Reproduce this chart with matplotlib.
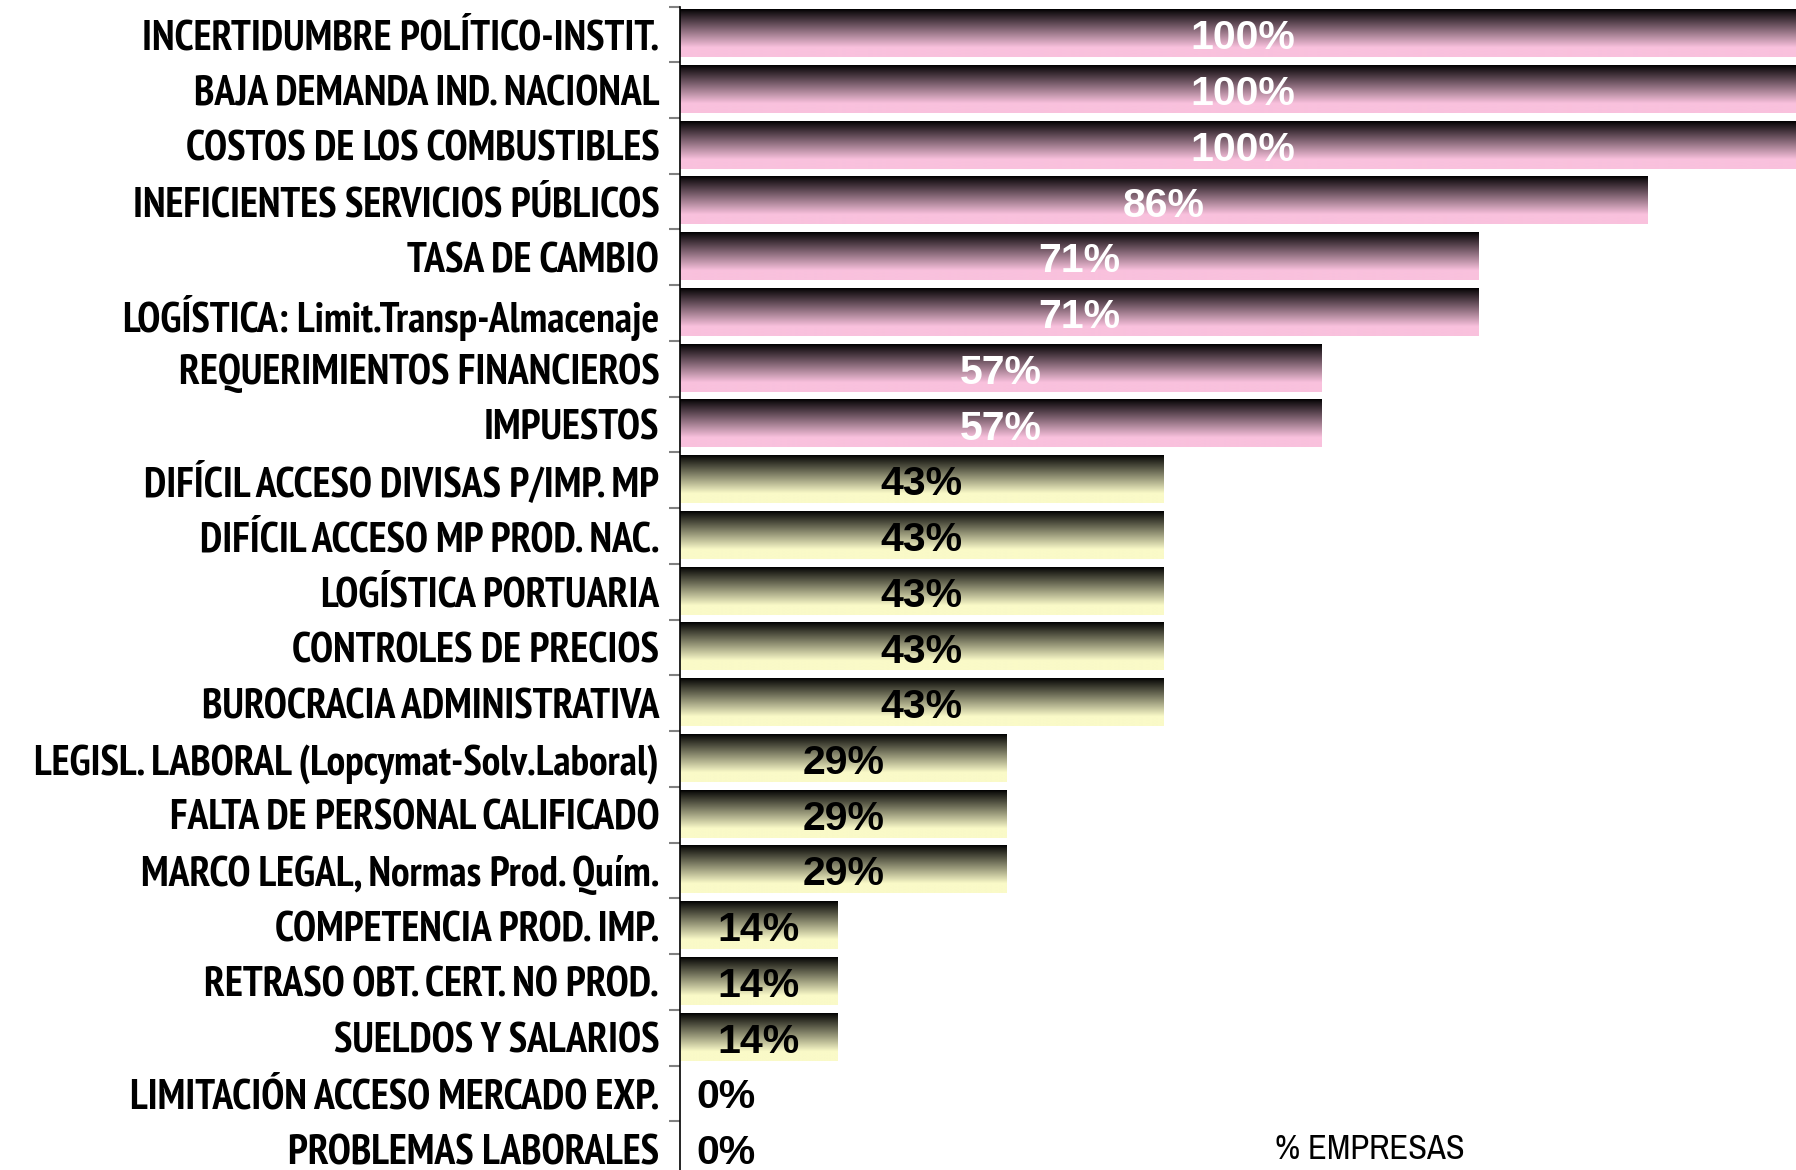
import numpy as np
import matplotlib.pyplot as plt
import matplotlib.patheffects as pe
from matplotlib import font_manager
from matplotlib.font_manager import FontProperties
from matplotlib.textpath import TextPath
from matplotlib.colors import LinearSegmentedColormap

categorias = [
    "INCERTIDUMBRE POLÍTICO-INSTIT.",
    "BAJA DEMANDA IND. NACIONAL",
    "COSTOS DE LOS COMBUSTIBLES",
    "INEFICIENTES SERVICIOS PÚBLICOS",
    "TASA DE CAMBIO",
    "LOGÍSTICA: Limit.Transp-Almacenaje",
    "REQUERIMIENTOS FINANCIEROS",
    "IMPUESTOS",
    "DIFÍCIL ACCESO DIVISAS P/IMP. MP",
    "DIFÍCIL ACCESO MP PROD. NAC.",
    "LOGÍSTICA PORTUARIA",
    "CONTROLES DE PRECIOS",
    "BUROCRACIA ADMINISTRATIVA",
    "LEGISL. LABORAL (Lopcymat-Solv.Laboral)",
    "FALTA DE PERSONAL CALIFICADO",
    "MARCO LEGAL, Normas Prod. Quím.",
    "COMPETENCIA PROD. IMP.",
    "RETRASO OBT. CERT. NO PROD.",
    "SUELDOS Y SALARIOS",
    "LIMITACIÓN ACCESO MERCADO EXP.",
    "PROBLEMAS LABORALES",
]
valores = [100, 100, 100, 86, 71, 71, 57, 57, 43, 43, 43, 43, 43,
           29, 29, 29, 14, 14, 14, 0, 0]
# 'rosa' para las barras > 50 %, 'amarillo' para el resto
grupos = ['rosa'] * 8 + ['amarillo'] * 13

fonts = font_manager.fontManager.ttflist
narrow_cands = ['Liberation Sans Narrow', 'Arial Narrow', 'Archivo Narrow',
                'PT Sans Narrow', 'Roboto Condensed', 'Pragati Narrow',
                'IBM Plex Sans Condensed', 'Fira Sans Condensed',
                'Encode Sans Condensed', 'Open Sans Condensed', 'Asap Condensed']


def pick(cands, need_bold=False):
    for c in cands:
        if any(f.name == c and (not need_bold or (f.weight in (600, 700, 'bold') and 'Italic' not in f.fname))
               for f in fonts):
            return [c, 'DejaVu Sans']
    return None


narrow_b = pick(narrow_cands, need_bold=True)
narrow = pick(narrow_cands) or ['DejaVu Sans']
bold = pick(['Liberation Sans', 'Arimo', 'Arial', 'Helvetica']) or ['DejaVu Sans']

# si no hay una fuente estrecha en negrita, se engrosa la normal con un trazo
efecto = []
if narrow_b is None:
    narrow_b = narrow
    efecto = [pe.withStroke(linewidth=1.1, foreground='black')]


def fit_size(txt, fam, weight, target_px, base=26):
    # tamaño de letra para que el texto ocupe ~target_px de ancho (dpi 100)
    w = TextPath((0, 0), txt, size=base,
                 prop=FontProperties(family=fam, weight=weight)).get_extents().width
    return float(np.clip(base * (target_px * 72 / 100) / w, 16, 30))


size_cat = fit_size(max(categorias, key=len), narrow_b, 'bold', 640)
size_emp = fit_size("% EMPRESAS", narrow, 'normal', 187, base=22)

cmaps = {
    'rosa': LinearSegmentedColormap.from_list(
        'rosa', [(0, '#000000'), (0.05, '#140f12'), (0.8, '#f9c1dd'), (1, '#f9c1dd')]),
    'amarillo': LinearSegmentedColormap.from_list(
        'amar', [(0, '#000000'), (0.05, '#141410'), (0.8, '#fafac8'), (1, '#fafac8')]),
}
color_txt = {'rosa': 'white', 'amarillo': 'black'}

fig = plt.figure(figsize=(17.96, 11.70), dpi=100)
ax = fig.add_axes([680 / 1796, 1 - 1177 / 1170, 1125 / 1796, 1170.5 / 1170])

grad = np.linspace(0, 1, 256).reshape(-1, 1)
h = 0.86
for i, (v, g) in enumerate(zip(valores, grupos)):
    if v > 0:
        ax.imshow(grad, cmap=cmaps[g], aspect='auto', origin='upper',
                  extent=[0, v, i + h / 2 - 0.02, i - h / 2 - 0.02],
                  interpolation='bilinear')
        ax.text(v / 2, i + 0.27, f"{v}%", ha='center', va='baseline', fontsize=29.5,
                fontweight='bold', family=bold, color=color_txt[g])
    else:
        ax.annotate(f"{v}%", xy=(0, i + 0.27), xytext=(12, 0), textcoords='offset points',
                    ha='left', va='baseline', fontsize=29.5, fontweight='bold',
                    family=bold, color='black')

ax.set_xlim(0, 100)
ax.set_ylim(20.5, -0.5)

ax.set_yticks(np.arange(-0.5, 21, 1))
ax.set_yticklabels([])
ax.set_yticks(np.arange(21), minor=True)
ax.set_yticklabels(categorias, minor=True, fontsize=size_cat, fontweight='bold', family=narrow_b)
for t in ax.get_yticklabels(minor=True):
    t.set_path_effects(efecto)
ax.tick_params(axis='y', which='major', length=8, width=1.5, color='#808080', direction='out')
ax.tick_params(axis='y', which='minor', length=0, pad=15)
ax.set_xticks([])

for s in ['top', 'right', 'bottom']:
    ax.spines[s].set_visible(False)
ax.spines['left'].set_color('black')
ax.spines['left'].set_linewidth(1.2)

fig.text(1370 / 1796, 1 - 1149 / 1170, "% EMPRESAS", ha='center', va='center',
         fontsize=size_emp, family=narrow)

fig.savefig('out.png', dpi=100)
